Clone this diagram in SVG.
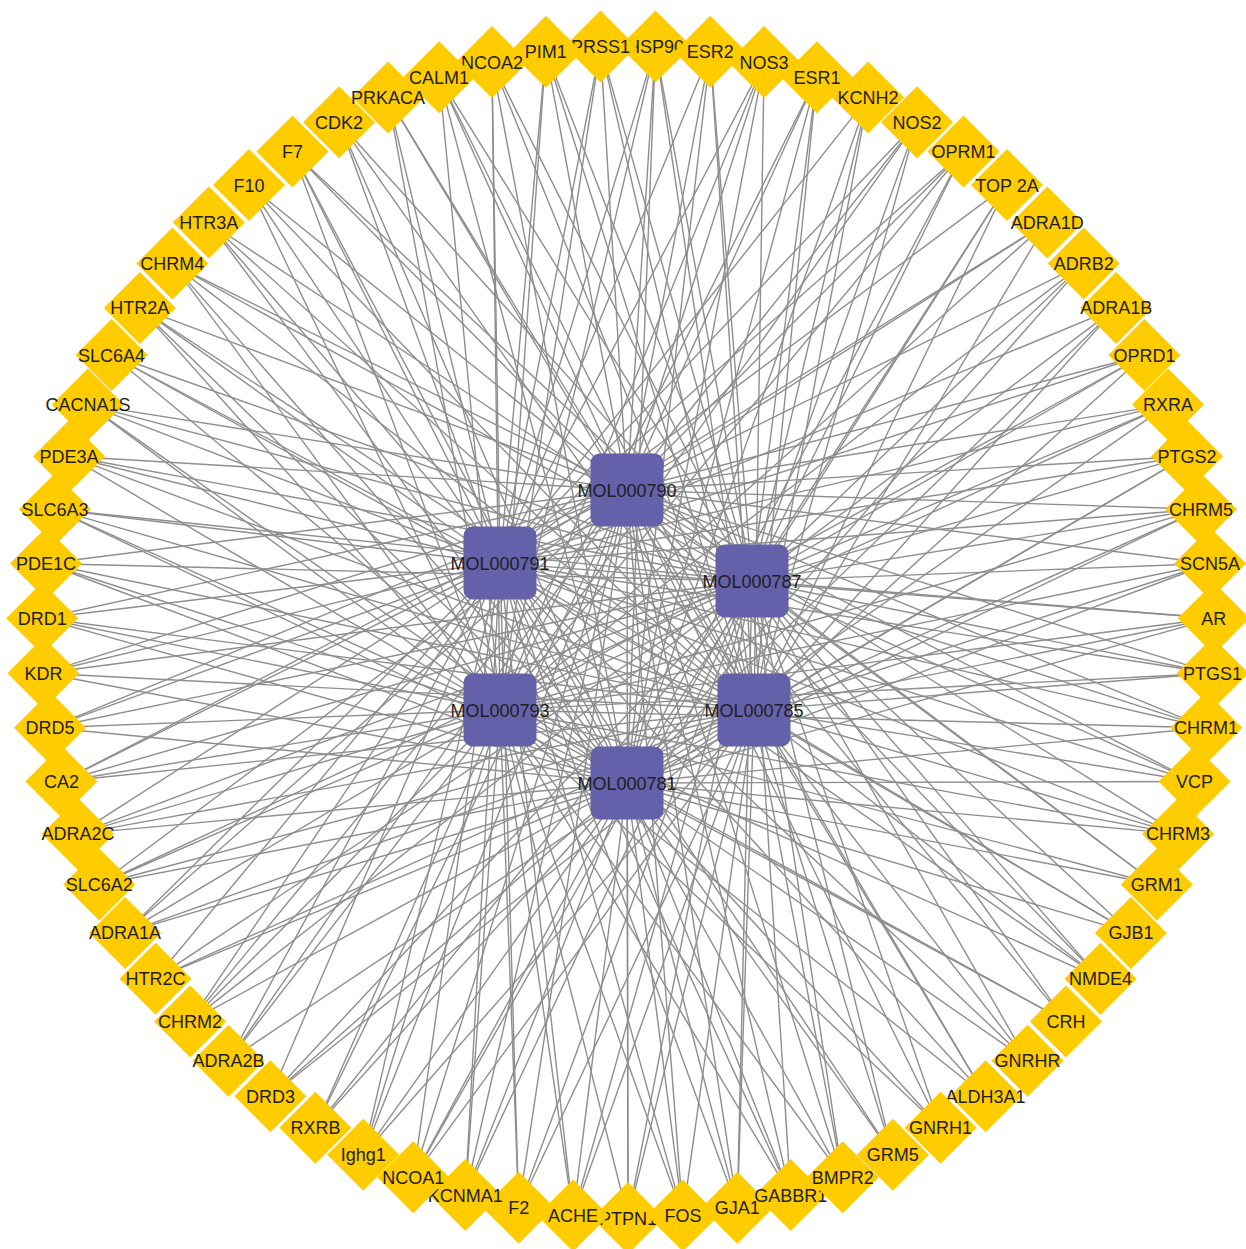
<svg xmlns="http://www.w3.org/2000/svg" width="1246" height="1249" viewBox="0 0 1246 1249">
<style>
.e line{stroke:#8e8e8e;stroke-width:1.4}
.t{fill:#ffcc00}
.m{fill:#6461aa}
text{font-family:"Liberation Sans",Arial,sans-serif;font-size:18px;fill:#1e1e1e;text-anchor:middle}
</style>
<defs><path id="d" d="M0 -36L36 0L0 36L-36 0Z"/></defs>
<rect width="1246" height="1249" fill="#ffffff"/>
<g id="edges" class="e">
<line x1="600.5" y1="46.6" x2="627" y2="490"/><line x1="600.5" y1="46.6" x2="500" y2="563"/><line x1="600.5" y1="46.6" x2="752" y2="581"/><line x1="600.5" y1="46.6" x2="500" y2="710"/><line x1="600.5" y1="46.6" x2="754" y2="710"/>
<line x1="655.5" y1="46.6" x2="627" y2="490"/><line x1="655.5" y1="46.6" x2="500" y2="563"/><line x1="655.5" y1="46.6" x2="752" y2="581"/><line x1="655.5" y1="46.6" x2="500" y2="710"/><line x1="655.5" y1="46.6" x2="754" y2="710"/><line x1="655.5" y1="46.6" x2="627" y2="783"/>
<line x1="710.2" y1="51.8" x2="627" y2="490"/><line x1="710.2" y1="51.8" x2="500" y2="563"/><line x1="710.2" y1="51.8" x2="752" y2="581"/><line x1="710.2" y1="51.8" x2="754" y2="710"/><line x1="710.2" y1="51.8" x2="627" y2="783"/>
<line x1="764.1" y1="62" x2="627" y2="490"/><line x1="764.1" y1="62" x2="500" y2="563"/><line x1="764.1" y1="62" x2="500" y2="710"/><line x1="764.1" y1="62" x2="754" y2="710"/><line x1="764.1" y1="62" x2="627" y2="783"/>
<line x1="816.9" y1="77.3" x2="627" y2="490"/><line x1="816.9" y1="77.3" x2="752" y2="581"/><line x1="816.9" y1="77.3" x2="500" y2="710"/><line x1="816.9" y1="77.3" x2="754" y2="710"/><line x1="816.9" y1="77.3" x2="627" y2="783"/>
<line x1="868" y1="97.4" x2="500" y2="563"/><line x1="868" y1="97.4" x2="752" y2="581"/><line x1="868" y1="97.4" x2="754" y2="710"/><line x1="868" y1="97.4" x2="627" y2="783"/>
<line x1="917" y1="122.2" x2="627" y2="490"/><line x1="917" y1="122.2" x2="500" y2="563"/><line x1="917" y1="122.2" x2="752" y2="581"/><line x1="917" y1="122.2" x2="500" y2="710"/><line x1="917" y1="122.2" x2="754" y2="710"/>
<line x1="963.5" y1="151.5" x2="627" y2="490"/><line x1="963.5" y1="151.5" x2="500" y2="563"/><line x1="963.5" y1="151.5" x2="752" y2="581"/><line x1="963.5" y1="151.5" x2="500" y2="710"/><line x1="963.5" y1="151.5" x2="627" y2="783"/>
<line x1="1007" y1="185.1" x2="500" y2="563"/><line x1="1007" y1="185.1" x2="752" y2="581"/><line x1="1007" y1="185.1" x2="754" y2="710"/><line x1="1007" y1="185.1" x2="627" y2="783"/>
<line x1="1047.2" y1="222.5" x2="627" y2="490"/><line x1="1047.2" y1="222.5" x2="500" y2="563"/><line x1="1047.2" y1="222.5" x2="500" y2="710"/><line x1="1047.2" y1="222.5" x2="754" y2="710"/>
<line x1="1083.7" y1="263.6" x2="627" y2="490"/><line x1="1083.7" y1="263.6" x2="752" y2="581"/><line x1="1083.7" y1="263.6" x2="500" y2="710"/><line x1="1083.7" y1="263.6" x2="627" y2="783"/>
<line x1="1116.2" y1="307.9" x2="500" y2="563"/><line x1="1116.2" y1="307.9" x2="752" y2="581"/><line x1="1116.2" y1="307.9" x2="754" y2="710"/><line x1="1116.2" y1="307.9" x2="627" y2="783"/>
<line x1="1144.4" y1="355" x2="627" y2="490"/><line x1="1144.4" y1="355" x2="500" y2="563"/><line x1="1144.4" y1="355" x2="752" y2="581"/><line x1="1144.4" y1="355" x2="500" y2="710"/><line x1="1144.4" y1="355" x2="754" y2="710"/>
<line x1="1168.1" y1="404.6" x2="627" y2="490"/><line x1="1168.1" y1="404.6" x2="500" y2="563"/><line x1="1168.1" y1="404.6" x2="752" y2="581"/><line x1="1168.1" y1="404.6" x2="500" y2="710"/><line x1="1168.1" y1="404.6" x2="627" y2="783"/>
<line x1="1187" y1="456.2" x2="627" y2="490"/><line x1="1187" y1="456.2" x2="500" y2="563"/><line x1="1187" y1="456.2" x2="752" y2="581"/><line x1="1187" y1="456.2" x2="754" y2="710"/><line x1="1187" y1="456.2" x2="627" y2="783"/>
<line x1="1201" y1="509.3" x2="627" y2="490"/><line x1="1201" y1="509.3" x2="500" y2="563"/><line x1="1201" y1="509.3" x2="752" y2="581"/><line x1="1201" y1="509.3" x2="500" y2="710"/><line x1="1201" y1="509.3" x2="754" y2="710"/><line x1="1201" y1="509.3" x2="627" y2="783"/>
<line x1="1210" y1="563.5" x2="627" y2="490"/><line x1="1210" y1="563.5" x2="752" y2="581"/><line x1="1210" y1="563.5" x2="500" y2="710"/><line x1="1210" y1="563.5" x2="754" y2="710"/><line x1="1210" y1="563.5" x2="627" y2="783"/>
<line x1="1213.8" y1="618.3" x2="500" y2="563"/><line x1="1213.8" y1="618.3" x2="752" y2="581"/><line x1="1213.8" y1="618.3" x2="500" y2="710"/><line x1="1213.8" y1="618.3" x2="754" y2="710"/><line x1="1213.8" y1="618.3" x2="627" y2="783"/>
<line x1="1212.6" y1="673.2" x2="627" y2="490"/><line x1="1212.6" y1="673.2" x2="500" y2="563"/><line x1="1212.6" y1="673.2" x2="752" y2="581"/><line x1="1212.6" y1="673.2" x2="500" y2="710"/><line x1="1212.6" y1="673.2" x2="754" y2="710"/>
<line x1="1206.1" y1="727.7" x2="627" y2="490"/><line x1="1206.1" y1="727.7" x2="500" y2="563"/><line x1="1206.1" y1="727.7" x2="752" y2="581"/><line x1="1206.1" y1="727.7" x2="500" y2="710"/><line x1="1206.1" y1="727.7" x2="627" y2="783"/>
<line x1="1194.6" y1="781.5" x2="627" y2="490"/><line x1="1194.6" y1="781.5" x2="500" y2="563"/><line x1="1194.6" y1="781.5" x2="752" y2="581"/><line x1="1194.6" y1="781.5" x2="754" y2="710"/><line x1="1194.6" y1="781.5" x2="627" y2="783"/>
<line x1="1178.1" y1="833.9" x2="627" y2="490"/><line x1="1178.1" y1="833.9" x2="500" y2="563"/><line x1="1178.1" y1="833.9" x2="500" y2="710"/><line x1="1178.1" y1="833.9" x2="754" y2="710"/><line x1="1178.1" y1="833.9" x2="627" y2="783"/>
<line x1="1156.8" y1="884.5" x2="627" y2="490"/><line x1="1156.8" y1="884.5" x2="752" y2="581"/><line x1="1156.8" y1="884.5" x2="500" y2="710"/><line x1="1156.8" y1="884.5" x2="627" y2="783"/>
<line x1="1130.9" y1="932.9" x2="500" y2="563"/><line x1="1130.9" y1="932.9" x2="752" y2="581"/><line x1="1130.9" y1="932.9" x2="754" y2="710"/><line x1="1130.9" y1="932.9" x2="627" y2="783"/>
<line x1="1100.5" y1="978.7" x2="627" y2="490"/><line x1="1100.5" y1="978.7" x2="500" y2="563"/><line x1="1100.5" y1="978.7" x2="752" y2="581"/><line x1="1100.5" y1="978.7" x2="500" y2="710"/><line x1="1100.5" y1="978.7" x2="754" y2="710"/>
<line x1="1065.9" y1="1021.4" x2="627" y2="490"/><line x1="1065.9" y1="1021.4" x2="752" y2="581"/><line x1="1065.9" y1="1021.4" x2="500" y2="710"/><line x1="1065.9" y1="1021.4" x2="627" y2="783"/>
<line x1="1027.5" y1="1060.7" x2="500" y2="563"/><line x1="1027.5" y1="1060.7" x2="752" y2="581"/><line x1="1027.5" y1="1060.7" x2="754" y2="710"/><line x1="1027.5" y1="1060.7" x2="627" y2="783"/>
<line x1="985.6" y1="1096.2" x2="627" y2="490"/><line x1="985.6" y1="1096.2" x2="500" y2="563"/><line x1="985.6" y1="1096.2" x2="500" y2="710"/><line x1="985.6" y1="1096.2" x2="754" y2="710"/>
<line x1="940.6" y1="1127.7" x2="627" y2="490"/><line x1="940.6" y1="1127.7" x2="752" y2="581"/><line x1="940.6" y1="1127.7" x2="500" y2="710"/><line x1="940.6" y1="1127.7" x2="627" y2="783"/>
<line x1="892.8" y1="1154.8" x2="500" y2="563"/><line x1="892.8" y1="1154.8" x2="752" y2="581"/><line x1="892.8" y1="1154.8" x2="754" y2="710"/><line x1="892.8" y1="1154.8" x2="627" y2="783"/>
<line x1="842.7" y1="1177.3" x2="627" y2="490"/><line x1="842.7" y1="1177.3" x2="500" y2="563"/><line x1="842.7" y1="1177.3" x2="752" y2="581"/><line x1="842.7" y1="1177.3" x2="500" y2="710"/><line x1="842.7" y1="1177.3" x2="754" y2="710"/>
<line x1="790.7" y1="1195" x2="627" y2="490"/><line x1="790.7" y1="1195" x2="500" y2="563"/><line x1="790.7" y1="1195" x2="752" y2="581"/><line x1="790.7" y1="1195" x2="500" y2="710"/><line x1="790.7" y1="1195" x2="627" y2="783"/>
<line x1="737.3" y1="1207.7" x2="627" y2="490"/><line x1="737.3" y1="1207.7" x2="500" y2="563"/><line x1="737.3" y1="1207.7" x2="752" y2="581"/><line x1="737.3" y1="1207.7" x2="754" y2="710"/><line x1="737.3" y1="1207.7" x2="627" y2="783"/>
<line x1="682.9" y1="1215.4" x2="627" y2="490"/><line x1="682.9" y1="1215.4" x2="500" y2="563"/><line x1="682.9" y1="1215.4" x2="500" y2="710"/><line x1="682.9" y1="1215.4" x2="754" y2="710"/><line x1="682.9" y1="1215.4" x2="627" y2="783"/>
<line x1="628" y1="1218" x2="627" y2="490"/><line x1="628" y1="1218" x2="752" y2="581"/><line x1="628" y1="1218" x2="500" y2="710"/><line x1="628" y1="1218" x2="754" y2="710"/><line x1="628" y1="1218" x2="627" y2="783"/>
<line x1="573.1" y1="1215.4" x2="500" y2="563"/><line x1="573.1" y1="1215.4" x2="752" y2="581"/><line x1="573.1" y1="1215.4" x2="500" y2="710"/><line x1="573.1" y1="1215.4" x2="754" y2="710"/><line x1="573.1" y1="1215.4" x2="627" y2="783"/>
<line x1="518.7" y1="1207.7" x2="627" y2="490"/><line x1="518.7" y1="1207.7" x2="500" y2="563"/><line x1="518.7" y1="1207.7" x2="752" y2="581"/><line x1="518.7" y1="1207.7" x2="500" y2="710"/><line x1="518.7" y1="1207.7" x2="754" y2="710"/>
<line x1="465.3" y1="1195" x2="627" y2="490"/><line x1="465.3" y1="1195" x2="500" y2="563"/><line x1="465.3" y1="1195" x2="752" y2="581"/><line x1="465.3" y1="1195" x2="500" y2="710"/><line x1="465.3" y1="1195" x2="627" y2="783"/>
<line x1="413.3" y1="1177.3" x2="627" y2="490"/><line x1="413.3" y1="1177.3" x2="500" y2="563"/><line x1="413.3" y1="1177.3" x2="752" y2="581"/><line x1="413.3" y1="1177.3" x2="754" y2="710"/><line x1="413.3" y1="1177.3" x2="627" y2="783"/>
<line x1="363.2" y1="1154.8" x2="627" y2="490"/><line x1="363.2" y1="1154.8" x2="500" y2="563"/><line x1="363.2" y1="1154.8" x2="500" y2="710"/><line x1="363.2" y1="1154.8" x2="754" y2="710"/><line x1="363.2" y1="1154.8" x2="627" y2="783"/>
<line x1="315.4" y1="1127.7" x2="627" y2="490"/><line x1="315.4" y1="1127.7" x2="752" y2="581"/><line x1="315.4" y1="1127.7" x2="500" y2="710"/><line x1="315.4" y1="1127.7" x2="627" y2="783"/>
<line x1="270.4" y1="1096.2" x2="500" y2="563"/><line x1="270.4" y1="1096.2" x2="752" y2="581"/><line x1="270.4" y1="1096.2" x2="754" y2="710"/><line x1="270.4" y1="1096.2" x2="627" y2="783"/>
<line x1="228.5" y1="1060.7" x2="627" y2="490"/><line x1="228.5" y1="1060.7" x2="500" y2="563"/><line x1="228.5" y1="1060.7" x2="500" y2="710"/><line x1="228.5" y1="1060.7" x2="754" y2="710"/>
<line x1="190.1" y1="1021.4" x2="627" y2="490"/><line x1="190.1" y1="1021.4" x2="500" y2="563"/><line x1="190.1" y1="1021.4" x2="752" y2="581"/><line x1="190.1" y1="1021.4" x2="500" y2="710"/><line x1="190.1" y1="1021.4" x2="627" y2="783"/>
<line x1="155.5" y1="978.7" x2="500" y2="563"/><line x1="155.5" y1="978.7" x2="752" y2="581"/><line x1="155.5" y1="978.7" x2="754" y2="710"/><line x1="155.5" y1="978.7" x2="627" y2="783"/>
<line x1="125.1" y1="932.9" x2="627" y2="490"/><line x1="125.1" y1="932.9" x2="500" y2="563"/><line x1="125.1" y1="932.9" x2="500" y2="710"/><line x1="125.1" y1="932.9" x2="754" y2="710"/><line x1="125.1" y1="932.9" x2="627" y2="783"/>
<line x1="99.2" y1="884.5" x2="627" y2="490"/><line x1="99.2" y1="884.5" x2="752" y2="581"/><line x1="99.2" y1="884.5" x2="500" y2="710"/><line x1="99.2" y1="884.5" x2="754" y2="710"/><line x1="99.2" y1="884.5" x2="627" y2="783"/>
<line x1="77.9" y1="833.9" x2="500" y2="563"/><line x1="77.9" y1="833.9" x2="752" y2="581"/><line x1="77.9" y1="833.9" x2="500" y2="710"/><line x1="77.9" y1="833.9" x2="754" y2="710"/><line x1="77.9" y1="833.9" x2="627" y2="783"/>
<line x1="61.4" y1="781.5" x2="627" y2="490"/><line x1="61.4" y1="781.5" x2="500" y2="563"/><line x1="61.4" y1="781.5" x2="752" y2="581"/><line x1="61.4" y1="781.5" x2="500" y2="710"/><line x1="61.4" y1="781.5" x2="754" y2="710"/>
<line x1="49.9" y1="727.7" x2="627" y2="490"/><line x1="49.9" y1="727.7" x2="500" y2="563"/><line x1="49.9" y1="727.7" x2="752" y2="581"/><line x1="49.9" y1="727.7" x2="500" y2="710"/><line x1="49.9" y1="727.7" x2="627" y2="783"/>
<line x1="43.4" y1="673.2" x2="627" y2="490"/><line x1="43.4" y1="673.2" x2="500" y2="563"/><line x1="43.4" y1="673.2" x2="752" y2="581"/><line x1="43.4" y1="673.2" x2="754" y2="710"/><line x1="43.4" y1="673.2" x2="627" y2="783"/>
<line x1="42.2" y1="618.3" x2="627" y2="490"/><line x1="42.2" y1="618.3" x2="500" y2="563"/><line x1="42.2" y1="618.3" x2="500" y2="710"/><line x1="42.2" y1="618.3" x2="754" y2="710"/><line x1="42.2" y1="618.3" x2="627" y2="783"/>
<line x1="46" y1="563.5" x2="627" y2="490"/><line x1="46" y1="563.5" x2="752" y2="581"/><line x1="46" y1="563.5" x2="500" y2="710"/><line x1="46" y1="563.5" x2="754" y2="710"/><line x1="46" y1="563.5" x2="627" y2="783"/>
<line x1="55" y1="509.3" x2="500" y2="563"/><line x1="55" y1="509.3" x2="752" y2="581"/><line x1="55" y1="509.3" x2="500" y2="710"/><line x1="55" y1="509.3" x2="754" y2="710"/><line x1="55" y1="509.3" x2="627" y2="783"/>
<line x1="69" y1="456.2" x2="627" y2="490"/><line x1="69" y1="456.2" x2="500" y2="563"/><line x1="69" y1="456.2" x2="752" y2="581"/><line x1="69" y1="456.2" x2="500" y2="710"/><line x1="69" y1="456.2" x2="754" y2="710"/>
<line x1="87.9" y1="404.6" x2="627" y2="490"/><line x1="87.9" y1="404.6" x2="500" y2="563"/><line x1="87.9" y1="404.6" x2="752" y2="581"/><line x1="87.9" y1="404.6" x2="500" y2="710"/><line x1="87.9" y1="404.6" x2="627" y2="783"/>
<line x1="111.6" y1="355" x2="500" y2="563"/><line x1="111.6" y1="355" x2="752" y2="581"/><line x1="111.6" y1="355" x2="754" y2="710"/><line x1="111.6" y1="355" x2="627" y2="783"/>
<line x1="139.8" y1="307.9" x2="627" y2="490"/><line x1="139.8" y1="307.9" x2="500" y2="563"/><line x1="139.8" y1="307.9" x2="500" y2="710"/><line x1="139.8" y1="307.9" x2="754" y2="710"/><line x1="139.8" y1="307.9" x2="627" y2="783"/>
<line x1="172.3" y1="263.6" x2="627" y2="490"/><line x1="172.3" y1="263.6" x2="752" y2="581"/><line x1="172.3" y1="263.6" x2="500" y2="710"/><line x1="172.3" y1="263.6" x2="754" y2="710"/><line x1="172.3" y1="263.6" x2="627" y2="783"/>
<line x1="208.8" y1="222.5" x2="500" y2="563"/><line x1="208.8" y1="222.5" x2="752" y2="581"/><line x1="208.8" y1="222.5" x2="754" y2="710"/><line x1="208.8" y1="222.5" x2="627" y2="783"/>
<line x1="249" y1="185.1" x2="627" y2="490"/><line x1="249" y1="185.1" x2="500" y2="563"/><line x1="249" y1="185.1" x2="500" y2="710"/><line x1="249" y1="185.1" x2="754" y2="710"/>
<line x1="292.5" y1="151.5" x2="627" y2="490"/><line x1="292.5" y1="151.5" x2="500" y2="563"/><line x1="292.5" y1="151.5" x2="752" y2="581"/><line x1="292.5" y1="151.5" x2="500" y2="710"/><line x1="292.5" y1="151.5" x2="627" y2="783"/>
<line x1="339" y1="122.2" x2="500" y2="563"/><line x1="339" y1="122.2" x2="752" y2="581"/><line x1="339" y1="122.2" x2="754" y2="710"/><line x1="339" y1="122.2" x2="627" y2="783"/>
<line x1="388" y1="97.4" x2="627" y2="490"/><line x1="388" y1="97.4" x2="500" y2="563"/><line x1="388" y1="97.4" x2="500" y2="710"/><line x1="388" y1="97.4" x2="754" y2="710"/>
<line x1="439.1" y1="77.3" x2="627" y2="490"/><line x1="439.1" y1="77.3" x2="752" y2="581"/><line x1="439.1" y1="77.3" x2="500" y2="710"/><line x1="439.1" y1="77.3" x2="754" y2="710"/><line x1="439.1" y1="77.3" x2="627" y2="783"/>
<line x1="491.9" y1="62" x2="500" y2="563"/><line x1="491.9" y1="62" x2="752" y2="581"/><line x1="491.9" y1="62" x2="500" y2="710"/><line x1="491.9" y1="62" x2="754" y2="710"/><line x1="491.9" y1="62" x2="627" y2="783"/>
<line x1="545.8" y1="51.8" x2="627" y2="490"/><line x1="545.8" y1="51.8" x2="500" y2="563"/><line x1="545.8" y1="51.8" x2="752" y2="581"/><line x1="545.8" y1="51.8" x2="500" y2="710"/><line x1="545.8" y1="51.8" x2="754" y2="710"/>
</g>
<g id="targets">
<g id="n-F2" transform="translate(518.7 1207.7)"><use href="#d" class="t"/><text y="6.5">F2</text></g>
<g id="n-GJA1" transform="translate(737.3 1207.7)"><use href="#d" class="t"/><text y="6.5">GJA1</text></g>
<g id="n-HSP90" transform="translate(655.5 46.6)"><use href="#d" class="t"/><text y="6.5">HSP90</text></g>
<g id="n-PTPN1" transform="translate(628 1218)"><use href="#d" class="t"/><text y="6.5">PTPN1</text></g>
<g id="n-KCNMA1" transform="translate(465.3 1195)"><use href="#d" class="t"/><text y="6.5">KCNMA1</text></g>
<g id="n-GABBR1" transform="translate(790.7 1195)"><use href="#d" class="t"/><text y="6.5">GABBR1</text></g>
<g id="n-ALDH3A1" transform="translate(985.6 1096.2)"><use href="#d" class="t"/><text y="6.5">ALDH3A1</text></g>
<g id="n-PRSS1" transform="translate(600.5 46.6)"><use href="#d" class="t"/><text y="6.5">PRSS1</text></g>
<g id="n-AR" transform="translate(1213.8 618.3)"><use href="#d" class="t"/><text y="6.5">AR</text></g>
<g id="n-F7" transform="translate(292.5 151.5)"><use href="#d" class="t"/><text y="6.5">F7</text></g>
<g id="n-F10" transform="translate(249 185.1)"><use href="#d" class="t"/><text y="6.5">F10</text></g>
<g id="n-CA2" transform="translate(61.4 781.5)"><use href="#d" class="t"/><text y="6.5">CA2</text></g>
<g id="n-CRH" transform="translate(1065.9 1021.4)"><use href="#d" class="t"/><text y="6.5">CRH</text></g>
<g id="n-KDR" transform="translate(43.4 673.2)"><use href="#d" class="t"/><text y="6.5">KDR</text></g>
<g id="n-VCP" transform="translate(1194.6 781.5)"><use href="#d" class="t"/><text y="6.5">VCP</text></g>
<g id="n-FOS" transform="translate(682.9 1215.4)"><use href="#d" class="t"/><text y="6.5">FOS</text></g>
<g id="n-PIM1" transform="translate(545.8 51.8)"><use href="#d" class="t"/><text y="6.5">PIM1</text></g>
<g id="n-ESR2" transform="translate(710.2 51.8)"><use href="#d" class="t"/><text y="6.5">ESR2</text></g>
<g id="n-NOS3" transform="translate(764.1 62)"><use href="#d" class="t"/><text y="6.5">NOS3</text></g>
<g id="n-ESR1" transform="translate(816.9 77.3)"><use href="#d" class="t"/><text y="6.5">ESR1</text></g>
<g id="n-NOS2" transform="translate(917 122.2)"><use href="#d" class="t"/><text y="6.5">NOS2</text></g>
<g id="n-DRD1" transform="translate(42.2 618.3)"><use href="#d" class="t"/><text y="6.5">DRD1</text></g>
<g id="n-DRD5" transform="translate(49.9 727.7)"><use href="#d" class="t"/><text y="6.5">DRD5</text></g>
<g id="n-DRD3" transform="translate(270.4 1096.2)"><use href="#d" class="t"/><text y="6.5">DRD3</text></g>
<g id="n-GJB1" transform="translate(1130.9 932.9)"><use href="#d" class="t"/><text y="6.5">GJB1</text></g>
<g id="n-GRM1" transform="translate(1156.8 884.5)"><use href="#d" class="t"/><text y="6.5">GRM1</text></g>
<g id="n-GRM5" transform="translate(892.8 1154.8)"><use href="#d" class="t"/><text y="6.5">GRM5</text></g>
<g id="n-RXRA" transform="translate(1168.1 404.6)"><use href="#d" class="t"/><text y="6.5">RXRA</text></g>
<g id="n-RXRB" transform="translate(315.4 1127.7)"><use href="#d" class="t"/><text y="6.5">RXRB</text></g>
<g id="n-CDK2" transform="translate(339 122.2)"><use href="#d" class="t"/><text y="6.5">CDK2</text></g>
<g id="n-ACHE" transform="translate(573.1 1215.4)"><use href="#d" class="t"/><text y="6.5">ACHE</text></g>
<g id="n-Ighg1" transform="translate(363.2 1154.8)"><use href="#d" class="t"/><text y="6.5">Ighg1</text></g>
<g id="n-NCOA2" transform="translate(491.9 62)"><use href="#d" class="t"/><text y="6.5">NCOA2</text></g>
<g id="n-CALM1" transform="translate(439.1 77.3)"><use href="#d" class="t"/><text y="6.5">CALM1</text></g>
<g id="n-KCNH2" transform="translate(868 97.4)"><use href="#d" class="t"/><text y="6.5">KCNH2</text></g>
<g id="n-OPRM1" transform="translate(963.5 151.5)"><use href="#d" class="t"/><text y="6.5">OPRM1</text></g>
<g id="n-OPRD1" transform="translate(1144.4 355)"><use href="#d" class="t"/><text y="6.5">OPRD1</text></g>
<g id="n-PTGS2" transform="translate(1187 456.2)"><use href="#d" class="t"/><text y="6.5">PTGS2</text></g>
<g id="n-CHRM5" transform="translate(1201 509.3)"><use href="#d" class="t"/><text y="6.5">CHRM5</text></g>
<g id="n-SCN5A" transform="translate(1210 563.5)"><use href="#d" class="t"/><text y="6.5">SCN5A</text></g>
<g id="n-PTGS1" transform="translate(1212.6 673.2)"><use href="#d" class="t"/><text y="6.5">PTGS1</text></g>
<g id="n-CHRM1" transform="translate(1206.1 727.7)"><use href="#d" class="t"/><text y="6.5">CHRM1</text></g>
<g id="n-CHRM3" transform="translate(1178.1 833.9)"><use href="#d" class="t"/><text y="6.5">CHRM3</text></g>
<g id="n-NMDE4" transform="translate(1100.5 978.7)"><use href="#d" class="t"/><text y="6.5">NMDE4</text></g>
<g id="n-GNRHR" transform="translate(1027.5 1060.7)"><use href="#d" class="t"/><text y="6.5">GNRHR</text></g>
<g id="n-GNRH1" transform="translate(940.6 1127.7)"><use href="#d" class="t"/><text y="6.5">GNRH1</text></g>
<g id="n-BMPR2" transform="translate(842.7 1177.3)"><use href="#d" class="t"/><text y="6.5">BMPR2</text></g>
<g id="n-NCOA1" transform="translate(413.3 1177.3)"><use href="#d" class="t"/><text y="6.5">NCOA1</text></g>
<g id="n-CHRM2" transform="translate(190.1 1021.4)"><use href="#d" class="t"/><text y="6.5">CHRM2</text></g>
<g id="n-HTR2C" transform="translate(155.5 978.7)"><use href="#d" class="t"/><text y="6.5">HTR2C</text></g>
<g id="n-PDE1C" transform="translate(46 563.5)"><use href="#d" class="t"/><text y="6.5">PDE1C</text></g>
<g id="n-PDE3A" transform="translate(69 456.2)"><use href="#d" class="t"/><text y="6.5">PDE3A</text></g>
<g id="n-HTR2A" transform="translate(139.8 307.9)"><use href="#d" class="t"/><text y="6.5">HTR2A</text></g>
<g id="n-CHRM4" transform="translate(172.3 263.6)"><use href="#d" class="t"/><text y="6.5">CHRM4</text></g>
<g id="n-HTR3A" transform="translate(208.8 222.5)"><use href="#d" class="t"/><text y="6.5">HTR3A</text></g>
<g id="n-ADRB2" transform="translate(1083.7 263.6)"><use href="#d" class="t"/><text y="6.5">ADRB2</text></g>
<g id="n-TOP2A" transform="translate(1007 185.1)"><use href="#d" class="t"/><text y="6.5">TOP 2A</text></g>
<g id="n-ADRA1D" transform="translate(1047.2 222.5)"><use href="#d" class="t"/><text y="6.5">ADRA1D</text></g>
<g id="n-ADRA1B" transform="translate(1116.2 307.9)"><use href="#d" class="t"/><text y="6.5">ADRA1B</text></g>
<g id="n-ADRA2B" transform="translate(228.5 1060.7)"><use href="#d" class="t"/><text y="6.5">ADRA2B</text></g>
<g id="n-ADRA1A" transform="translate(125.1 932.9)"><use href="#d" class="t"/><text y="6.5">ADRA1A</text></g>
<g id="n-SLC6A2" transform="translate(99.2 884.5)"><use href="#d" class="t"/><text y="6.5">SLC6A2</text></g>
<g id="n-ADRA2C" transform="translate(77.9 833.9)"><use href="#d" class="t"/><text y="6.5">ADRA2C</text></g>
<g id="n-SLC6A3" transform="translate(55 509.3)"><use href="#d" class="t"/><text y="6.5">SLC6A3</text></g>
<g id="n-SLC6A4" transform="translate(111.6 355)"><use href="#d" class="t"/><text y="6.5">SLC6A4</text></g>
<g id="n-PRKACA" transform="translate(388 97.4)"><use href="#d" class="t"/><text y="6.5">PRKACA</text></g>
<g id="n-CACNA1S" transform="translate(87.9 404.6)"><use href="#d" class="t"/><text y="6.5">CACNA1S</text></g>
</g>
<g id="compounds">
<g id="MOL000790" transform="translate(627 490)"><rect x="-36.5" y="-36.5" width="73" height="73" rx="9" class="m"/><text y="6.5">MOL000790</text></g>
<g id="MOL000791" transform="translate(500 563)"><rect x="-36.5" y="-36.5" width="73" height="73" rx="9" class="m"/><text y="6.5">MOL000791</text></g>
<g id="MOL000787" transform="translate(752 581)"><rect x="-36.5" y="-36.5" width="73" height="73" rx="9" class="m"/><text y="6.5">MOL000787</text></g>
<g id="MOL000793" transform="translate(500 710)"><rect x="-36.5" y="-36.5" width="73" height="73" rx="9" class="m"/><text y="6.5">MOL000793</text></g>
<g id="MOL000785" transform="translate(754 710)"><rect x="-36.5" y="-36.5" width="73" height="73" rx="9" class="m"/><text y="6.5">MOL000785</text></g>
<g id="MOL000781" transform="translate(627 783)"><rect x="-36.5" y="-36.5" width="73" height="73" rx="9" class="m"/><text y="6.5">MOL000781</text></g>
</g>
</svg>
